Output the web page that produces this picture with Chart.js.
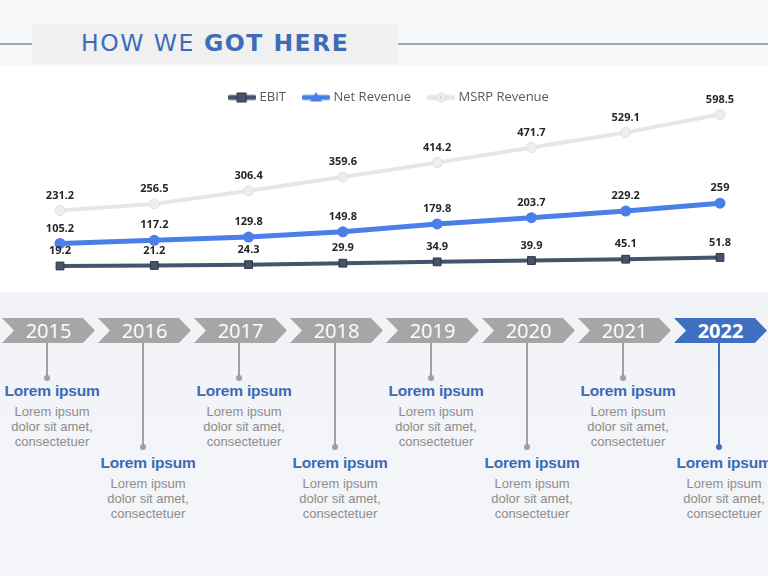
<!DOCTYPE html>
<html>
<head>
<meta charset="utf-8">
<script src="https://cdn.jsdelivr.net/npm/chart.js@4/dist/chart.umd.min.js"></script>
<style>
  html,body{margin:0;padding:0;}
  body{width:768px;height:576px;position:relative;overflow:hidden;
    background:linear-gradient(180deg,#f7f8fa 0%,#f1f3f7 55%,#f4f6f9 100%);font-family:"Open Sans",sans-serif;}
  #panel{position:absolute;left:0;top:66px;width:768px;height:226px;background:#ffffff;}
  #hline{position:absolute;left:0;top:43px;width:768px;height:2px;background:#9daab0;}
  #titlebox{position:absolute;left:32px;top:24px;width:366px;height:40px;background:#f0f0f0;}
  #title{position:absolute;left:81px;top:29px;font-family:"DejaVu Sans",sans-serif;font-size:23.5px;letter-spacing:1.5px;color:#3d6cb9;white-space:nowrap;}
  #title b{font-weight:700;}
  #wrap{position:absolute;left:0;top:72px;width:768px;height:216px;}
  .chev{position:absolute;top:318px;height:25px;width:93px;background:#a6a6a6;
    clip-path:polygon(0 0,87% 0,100% 50%,87% 100%,0 100%,13% 50%);
    color:#fff;font-family:"Open Sans",sans-serif;font-size:20px;line-height:25px;text-align:center;}
  .chev.cur{background:#3f6fc0;font-weight:700;}
  .vl{position:absolute;width:2px;background:#a0a0a0;top:343px;}
  .dot{position:absolute;width:6px;height:6px;border-radius:3px;background:#a0a0a0;}
  .head{position:absolute;width:130px;text-align:center;font-family:"Liberation Sans",Arial,sans-serif;font-weight:700;font-size:15.5px;color:#4069b3;letter-spacing:-0.2px;white-space:nowrap;}
  .body{position:absolute;width:130px;text-align:center;font-family:"Liberation Sans",Arial,sans-serif;font-size:13px;line-height:15px;color:#8c8c8c;}
</style>
</head>
<body>
<div id="panel"></div>
<div id="hline"></div>
<div id="titlebox"></div>
<div id="title">HOW WE <b>GOT HERE</b></div>
<div id="wrap"><canvas id="c"></canvas></div>
<div id="timeline"></div>
<script>
const years = ["2015","2016","2017","2018","2019","2020","2021","2022"];
const ebit = [19.2, 21.2, 24.3, 29.9, 34.9, 39.9, 45.1, 51.8];
const netRevenue = [105.2, 117.2, 129.8, 149.8, 179.8, 203.7, 229.2, 259];
const msrpRevenue = [231.2, 256.5, 306.4, 359.6, 414.2, 471.7, 529.1, 598.5];
const seriesNames = ["EBIT", "Net Revenue", "MSRP Revenue"];
const timelineHeading = "Lorem ipsum";
const timelineBody = ["Lorem ipsum", "dolor sit amet,", "consectetuer"];

// timeline (decorative slide part)
const tl = document.getElementById('timeline');
years.forEach((y, i) => {
  const cx = 47 + i * 96;
  const ch = document.createElement('div');
  ch.className = 'chev' + (i === years.length - 1 ? ' cur' : '');
  ch.style.left = (cx - 45) + 'px';
  ch.textContent = y;
  tl.appendChild(ch);
  const low = i % 2 === 1;
  const end = low ? 447 : 378;
  const col = i === years.length - 1 ? '#3f6fc0' : '#a0a0a0';
  const vl = document.createElement('div');
  vl.className = 'vl'; vl.style.left = (cx - 1) + 'px'; vl.style.height = (end - 343) + 'px'; vl.style.background = col;
  tl.appendChild(vl);
  const d = document.createElement('div');
  d.className = 'dot'; d.style.left = (cx - 3) + 'px'; d.style.top = (end - 3) + 'px'; d.style.background = col;
  tl.appendChild(d);
  const hx = cx + 5;
  const h = document.createElement('div');
  h.className = 'head'; h.style.left = (hx - 65) + 'px'; h.style.top = (low ? 454 : 382) + 'px';
  h.textContent = timelineHeading;
  tl.appendChild(h);
  const b = document.createElement('div');
  b.className = 'body'; b.style.left = (hx - 65) + 'px'; b.style.top = (low ? 476 : 404) + 'px';
  b.innerHTML = timelineBody.join('<br>');
  tl.appendChild(b);
});

const colors = {
  ebit: '#44546a', ebitBorder: '#2b3647',
  net: '#4a7fe8',
  msrp: '#e6e6e6', msrpPoint: '#eeeeee', msrpBorder: '#dedede'
};

function legendIcon(color, width, marker, mColor, mBorder) {
  const c = document.createElement('canvas');
  c.width = 28; c.height = 12;
  const x = c.getContext('2d');
  x.strokeStyle = color; x.lineWidth = width; x.lineCap = 'round';
  x.beginPath(); x.moveTo(2, 6); x.lineTo(26, 6); x.stroke();
  x.fillStyle = mColor; x.strokeStyle = mBorder; x.lineWidth = 1;
  if (marker === 'rect') { x.fillRect(9, 1.5, 9, 9); x.strokeRect(9, 1.5, 9, 9); }
  else if (marker === 'tri') { x.beginPath(); x.moveTo(14, 0.5); x.lineTo(20, 10); x.lineTo(8, 10); x.closePath(); x.fill(); }
  else { x.beginPath(); x.arc(14, 6, 4.5, 0, Math.PI * 2); x.fill(); x.stroke();
    x.fillStyle = '#d9a0a0'; x.beginPath(); x.arc(14, 6, 0.8, 0, Math.PI * 2); x.fill(); }
  return c;
}
const icons = [
  legendIcon(colors.ebit, 5, 'rect', colors.ebit, colors.ebitBorder),
  legendIcon(colors.net, 5, 'tri', colors.net, colors.net),
  legendIcon(colors.msrp, 5, 'circle', colors.msrpPoint, colors.msrpBorder)
];

const labelPlugin = {
  id: 'valueLabels',
  afterDatasetsDraw(chart) {
    const ctx = chart.ctx;
    ctx.save();
    ctx.font = 'bold 11px "Open Sans", sans-serif';
    ctx.fillStyle = '#262626';
    ctx.textAlign = 'center';
    ctx.textBaseline = 'middle';
    chart.data.datasets.forEach((ds, di) => {
      const meta = chart.getDatasetMeta(di);
      meta.data.forEach((pt, i) => {
        ctx.fillText(String(ds.data[i]), pt.x, pt.y - 15);
      });
    });
    ctx.restore();
  }
};

new Chart(document.getElementById('c'), {
  type: 'line',
  data: {
    labels: years,
    datasets: [
      { label: seriesNames[0], data: ebit, borderColor: colors.ebit, backgroundColor: colors.ebit,
        borderWidth: 4, pointStyle: 'rect', pointRadius: 5.5, pointBorderColor: colors.ebitBorder,
        pointBorderWidth: 1, pointBackgroundColor: colors.ebit, order: 1, clip: false },
      { label: seriesNames[1], data: netRevenue, borderColor: colors.net, backgroundColor: colors.net,
        borderWidth: 5, pointStyle: 'circle', pointRadius: 5.5, pointBorderWidth: 0,
        pointBackgroundColor: colors.net, order: 2, clip: false },
      { label: seriesNames[2], data: msrpRevenue, borderColor: colors.msrp, backgroundColor: colors.msrp,
        borderWidth: 4, pointStyle: 'circle', pointRadius: 5, pointBorderColor: colors.msrpBorder,
        pointBorderWidth: 1, pointBackgroundColor: colors.msrpPoint, order: 3, clip: false }
    ]
  },
  options: {
    responsive: true,
    maintainAspectRatio: false,
    animation: false,
    layout: { padding: { left: 60, right: 48, top: 0, bottom: 17 } },
    scales: {
      x: { display: false, offset: false },
      y: { display: false, min: 0, max: 600 }
    },
    plugins: {
      tooltip: { enabled: false },
      legend: {
        display: true,
        position: 'top',
        labels: {
          usePointStyle: true,
          pointStyleWidth: 22,
          padding: 19,
          color: '#595959',
          font: { family: '"Open Sans", sans-serif', size: 13 },
          generateLabels(chart) {
            return chart.data.datasets.map((ds, i) => ({
              text: ds.label, pointStyle: icons[i], fillStyle: ds.borderColor,
              strokeStyle: ds.borderColor, lineWidth: 0, hidden: false, datasetIndex: i,
              fontColor: '#595959'
            }));
          }
        }
      }
    }
  },
  plugins: [labelPlugin]
});
</script>
</body>
</html>
